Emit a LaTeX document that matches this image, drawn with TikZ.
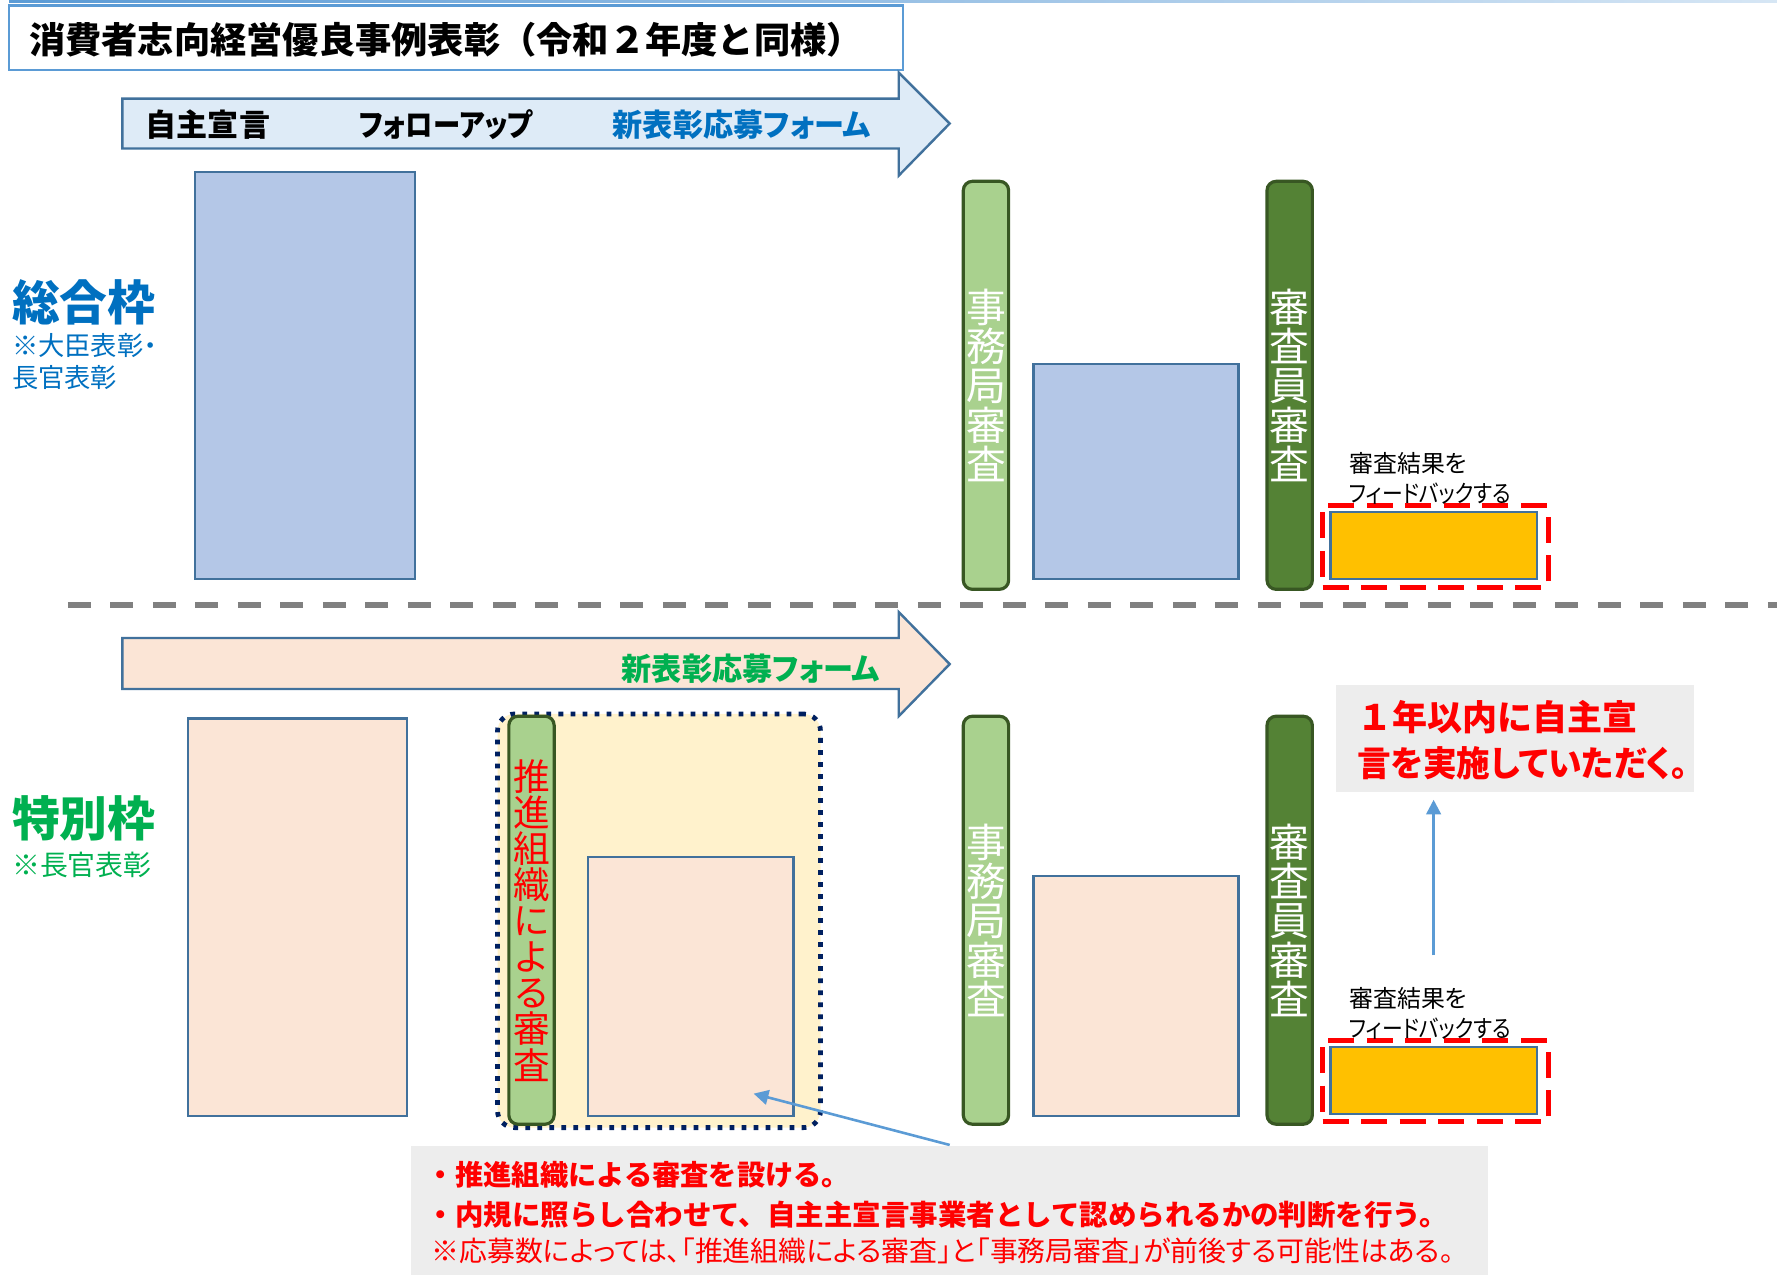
\documentclass[tikz,border=0pt]{standalone}
\usepackage{fontspec}
\setmainfont{Noto Sans CJK JP}
\newfontfamily\jpp[RawFeature=+palt]{Noto Sans CJK JP}
\usetikzlibrary{arrows.meta}

\definecolor{lineblue}{HTML}{5B9BD5}
\definecolor{edgeblue}{HTML}{41719C}
\definecolor{fillblue}{HTML}{B4C7E7}
\definecolor{arrowblue}{HTML}{DEEBF7}
\definecolor{fillpeach}{HTML}{FBE5D6}
\definecolor{barlight}{HTML}{A9D18E}
\definecolor{barmid}{HTML}{548235}
\definecolor{bardark}{HTML}{385723}
\definecolor{fborange}{HTML}{FFC000}
\definecolor{areayellow}{HTML}{FFF2CC}
\definecolor{dotnavy}{HTML}{002060}
\definecolor{notegray}{HTML}{EDEDED}
\definecolor{textblue}{HTML}{0070C0}
\definecolor{textgreen}{HTML}{00B050}
\definecolor{sepgray}{HTML}{808080}

\begin{document}
\begin{tikzpicture}[x=0.1mm,y=-0.1mm]
    \tikzset{
        box/.style={draw=edgeblue,line width=0.6pt,inner sep=0pt,outer sep=0pt},
        entrybox/.style={box,fill=fillblue},
        peachbox/.style={box,fill=fillpeach},
        fbbox/.style={box,fill=fborange,minimum width=18.2mm,minimum height=5.9mm},
        fbframe/.style={draw=red,line width=0.44mm,dash pattern=on 2.3mm off 1.1mm,minimum width=19.9mm,minimum height=7.2mm,inner sep=0pt},
        bar/.style={draw=bardark,line width=0.8pt,rounded corners=0.8mm,minimum width=4mm,minimum height=36mm,inner sep=0pt,align=center},
        officebar/.style={bar,fill=barlight,text=white,font=\fontsize{10}{9.87}\selectfont},
        jurybar/.style={bar,fill=barmid,text=white,font=\fontsize{10}{9.87}\selectfont},
        note/.style={fill=notegray,inner sep=0pt},
        txt/.style={inner sep=0pt,anchor=west},
        callout/.style={draw=lineblue,line width=0.65pt,-{Triangle[width=1.3mm,length=1.3mm]}}
    }
    \useasboundingbox (0,0) rectangle (1568,1125);

    % top rule and title
    \shade[left color=lineblue,right color=lineblue!25] (8,0) rectangle (1568,2.5);
    \node[draw=lineblue,line width=0.6pt,fill=white,minimum width=78.9mm,minimum height=5.7mm,inner sep=0pt] (title) at (402.5,33.5) {};
    \node[txt,font=\fontsize{9.1}{9.1}\selectfont\bfseries] at (25,35) {消費者志向経営優良事例表彰（令和２年度と同様）};

    % upper flow arrow
    \draw[draw=edgeblue,fill=arrowblue,line width=0.6pt] (108,87) -- (793,87) -- (793,64) -- (838,109)
        -- (793,155) -- (793,131) -- (108,131) -- cycle;
    \node[txt,font=\fontsize{7.8}{7.8}\selectfont\bfseries] at (128,110) {自主宣言};
    \node[txt,font=\fontsize{7.8}{7.8}\selectfont\jpp\bfseries] at (316,110) {\scalebox{0.88}[1]{フォローアップ}};
    \node[txt,font=\fontsize{7.8}{7.8}\selectfont\jpp\bfseries,text=textblue] at (540,110) {\scalebox{0.97}[1]{新表彰応募フォーム}};

    % lower flow arrow
    \draw[draw=edgeblue,fill=fillpeach,line width=0.6pt] (108,563) -- (793,563) -- (793,540) -- (838,586)
        -- (793,632) -- (793,608) -- (108,608) -- cycle;
    \node[txt,font=\fontsize{7.8}{7.8}\selectfont\jpp\bfseries,text=textgreen] at (548,590) {\scalebox{0.97}[1]{新表彰応募フォーム}};

    % row labels
    \node[txt,font=\fontsize{12}{12}\selectfont\bfseries,text=textblue] (general) at (10,267) {総合枠};
    \node[txt,align=left,font=\fontsize{6.6}{8}\selectfont\jpp,text=textblue] at (10,319) {※大臣表彰・\\長官表彰};
    \node[txt,font=\fontsize{12}{12}\selectfont\bfseries,text=textgreen] (special) at (10,722) {特別枠};
    \node[txt,font=\fontsize{7}{7}\selectfont,text=textgreen] at (10,763) {※長官表彰};

    % separator
    \draw[sepgray,line width=0.5mm,dash pattern=on 2mm off 1.75mm] (60,534) -- (1568,534);

    % entries
    \node[entrybox,minimum width=19.4mm,minimum height=35.9mm] (entry1) at (269,331.5) {};
    \node[entrybox,minimum width=18.1mm,minimum height=19mm] (pass1) at (1002.5,416) {};
    \node[peachbox,minimum width=19.3mm,minimum height=35.1mm] (entry2) at (262.5,809.5) {};
    \node[peachbox,minimum width=18.1mm,minimum height=21.2mm] (pass2) at (1002.5,879) {};

    % promotion body review
    \node[fill=areayellow,draw=dotnavy,line width=0.42mm,dash pattern=on 0.42mm off 0.64mm,rounded corners=1.5mm,
        minimum width=28.5mm,minimum height=36.5mm,inner sep=0pt] (area) at (581.5,812.5) {};
    \node[bar,fill=barlight,text=red,font=\fontsize{9.2}{9.07}\selectfont] (promo) at (469,812)
        {推\\進\\組\\織\\に\\よ\\る\\審\\査};
    \node[peachbox,minimum width=18.1mm,minimum height=22.9mm] (check2) at (609.5,870.5) {};

    % review bars and feedback, both rows
    \foreach \r/\dy in {1/0,2/472}{
        \node[officebar] (office\r) at (870,340+\dy) {事\\務\\局\\審\\査};
        \node[jurybar] (jury\r) at (1138,340+\dy) {審\\査\\員\\審\\査};
        \node[fbframe] (frame\r) at (1266.5,482+\dy) {};
        \node[fbbox] (fb\r) at (1265,481.5+\dy) {};
        \node[txt,align=left,font=\fontsize{6}{7.4}\selectfont\jpp] (fbtext\r) at (1190,422+\dy)
            {審査結果を\\\scalebox{0.87}[1]{フィードバックする}};
    }

    % notes
    \node[note,minimum width=31.6mm,minimum height=9.5mm] (goal) at (1337,651.5) {};
    \node[txt,align=left,text=red,font=\fontsize{8.8}{11.4}\selectfont\bfseries] at (1197,653)
        {１年以内に自主宣\\{\jpp\scalebox{0.96}[1]{言を実施していただく。}}};
    \node[note,minimum width=95mm,minimum height=11.4mm] (remark) at (838,1068) {};
    \node[txt,text=red,font=\fontsize{7.1}{7.1}\selectfont\bfseries] at (376,1037) {・推進組織による審査を設ける。};
    \node[txt,text=red,font=\fontsize{7.15}{7.15}\selectfont\bfseries] at (376,1072) {・内規に照らし合わせて、自主主宣言事業者として認められるかの判断を行う。};
    \node[txt,text=red,font=\fontsize{7}{7}\selectfont\jpp] at (380,1104) {※応募数によっては、「推進組織による審査」と「事務局審査」が前後する可能性はある。};

    % callouts
    \coordinate (remarkTip) at (665,965);
    \coordinate (fbTop) at (1265,843);
    \draw[callout] (remark.north) -- (remarkTip);
    \draw[callout,shorten >=0.6mm] (fbTop) -- (goal.south -| fbTop);
\end{tikzpicture}
\end{document}
